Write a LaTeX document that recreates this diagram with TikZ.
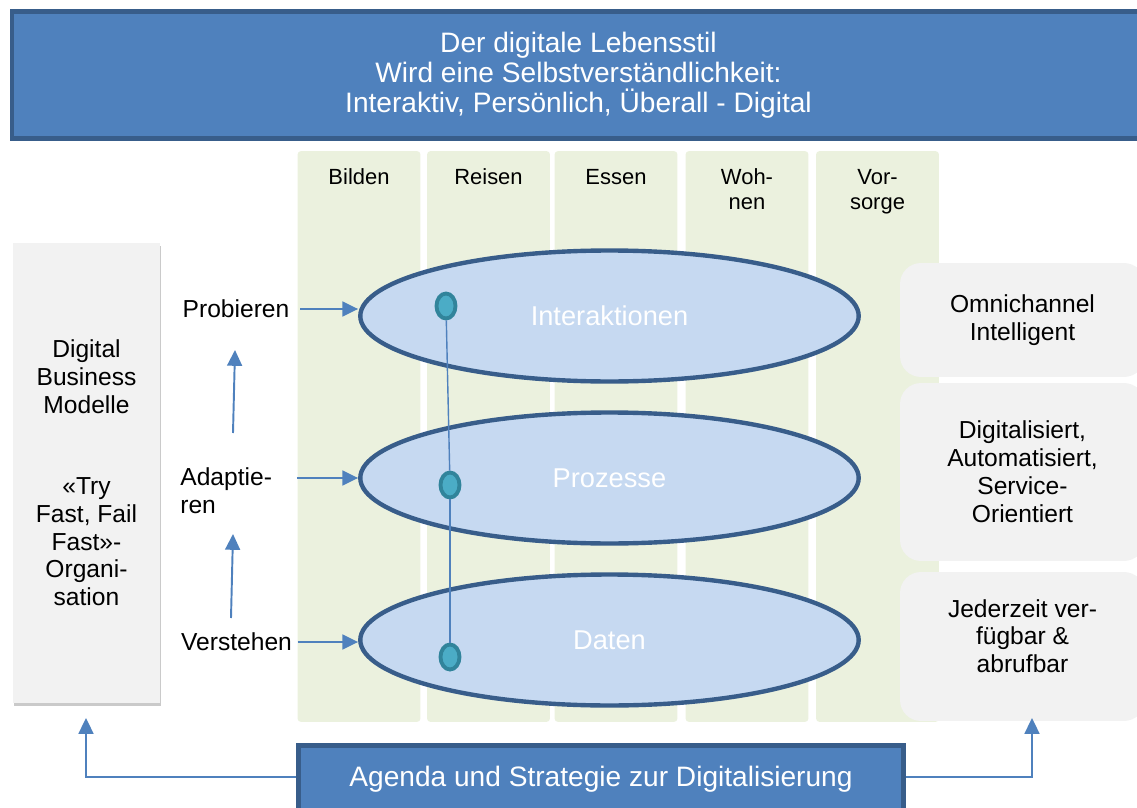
\documentclass[tikz,border=0pt]{standalone}
\usepackage{fontspec}
\setmainfont{Liberation Sans}
\usetikzlibrary{shapes.geometric,arrows.meta,shadows}

\definecolor{bannerblue}{HTML}{4F81BD}
\definecolor{bannerline}{HTML}{385D8A}
\definecolor{colgreen}{HTML}{EBF1DE}
\definecolor{boxgray}{HTML}{F2F2F2}
\definecolor{layerfill}{HTML}{C6D9F1}
\definecolor{knotfill}{HTML}{4BACC6}
\definecolor{knotline}{HTML}{31849B}

\begin{document}
\begin{tikzpicture}[x=0.02cm,y=-0.02cm,
	banner/.style={draw=bannerline, line width=2.6pt, fill=bannerblue, text=white, align=center, font=\fontsize{16}{17.2}\selectfont},
	column/.style={fill=colgreen, rounded corners=2pt, minimum width=2.46cm, minimum height=11.42cm, inner sep=0pt},
	collabel/.style={anchor=north, align=center, inner sep=0pt, font=\fontsize{12.5}{14.2}\selectfont},
	graybox/.style={fill=boxgray, align=center, font=\fontsize{14}{15.9}\selectfont},
	phase/.style={inner sep=0pt, align=left, font=\fontsize{14}{15.9}\selectfont},
	layer/.style={ellipse, draw=bannerline, line width=2.5pt, fill=layerfill, text=white, inner sep=0pt, minimum width=9.97cm, minimum height=2.62cm, font=\fontsize{15.5}{17}\selectfont},
	knot/.style={ellipse, draw=knotline, fill=knotfill, line width=2.2pt, inner sep=0pt, minimum width=0.38cm, minimum height=0.5cm},
	flow/.style={draw=bannerblue, line width=1.1pt, -{Triangle[length=9pt,width=8.5pt]}},
	link/.style={draw=bannerblue, line width=0.8pt}]

	\useasboundingbox (0,0) rectangle (1137,808);
	\clip (0,0) rectangle (1137,808);

	% life areas
	\foreach \name/\x/\txt in {bilden/359/Bilden, reisen/488.5/Reisen, essen/616/Essen, wohnen/747/{Woh-\\nen}, vorsorge/877.5/{Vor-\\sorge}}{
		\node (\name) at (\x,436.5) [column] {};
		\node (\name-lbl) at (\x,168) [collabel] {\vphantom{Bl}\txt};
	}

	\node (lebensstil) at (578.5,75) [banner, minimum width=22.66cm, minimum height=2.55cm] {Der digitale Lebensstil\\Wird eine Selbstverständlichkeit:\\Interaktiv, Persönlich, Überall - Digital};

	\node (modelle) at (86.5,473) [graybox, drop shadow={shadow xshift=0.6pt, shadow yshift=-1.6pt, opacity=0.35, fill=black!60}, minimum width=2.94cm, minimum height=9.2cm] {Digital\\Business\\Modelle\\[30pt]«Try\\Fast, Fail\\Fast»-\\Organi-\\sation};

	\node (probieren) at (236,309) [phase] {Probieren};
	\node (adaptieren) at (180,490.5) [phase, anchor=west] {Adaptie-\\ren};
	\node (verstehen) at (236.5,642) [phase] {Verstehen};

	\coordinate (rise1) at (233,433);
	\coordinate (peak1) at (235,350);
	\coordinate (rise2) at (231,618);
	\coordinate (peak2) at (233,534);
	\draw[flow] (rise1) -- (peak1);
	\draw[flow] (rise2) -- (peak2);

	\node (interaktionen) at (609.5,316) [layer] {Interaktionen};
	\node (prozesse) at (609.5,478) [layer] {Prozesse};
	\node (daten) at (609.5,640) [layer] {Daten};

	\draw[flow, shorten <=6pt] (probieren.east) -- (probieren.east -| interaktionen.west);
	\draw[flow, shorten <=14pt] (adaptieren.east |- prozesse.west) -- (prozesse.west);
	\draw[flow, shorten <=3pt] (verstehen.east) -- (verstehen.east -| daten.west);

	\node (knot1) at (446,306) [knot] {};
	\node (knot2) at (450,485) [knot] {};
	\node (knot3) at (450,657) [knot] {};
	\draw[link] (knot1) -- (knot2);
	\draw[link] (knot2) -- (knot3);

	\node (omni) at (1022.5,320) [graybox, rounded corners=0.42cm, minimum width=4.9cm, minimum height=2.28cm] {Omnichannel\\Intelligent};
	\node (auto) at (1022.5,472) [graybox, rounded corners=0.42cm, minimum width=4.9cm, minimum height=3.56cm] {Digitalisiert,\\Automatisiert,\\Service-\\Orientiert};
	\node (abruf) at (1022.5,646.5) [graybox, rounded corners=0.42cm, minimum width=4.9cm, minimum height=2.98cm] {Jederzeit ver-\\fügbar \&\\abrufbar\\[-4pt]};

	\node (agenda) at (601,779) [banner, minimum width=12.1cm, minimum height=1.34cm] {Agenda und Strategie zur Digitalisierung};

	\coordinate (ltip) at (86,718);
	\coordinate (rtip) at (1032,718);
	\draw[flow] (agenda.west |- 0,777) -| (ltip);
	\draw[flow] (agenda.east |- 0,777) -| (rtip);
\end{tikzpicture}
\end{document}
